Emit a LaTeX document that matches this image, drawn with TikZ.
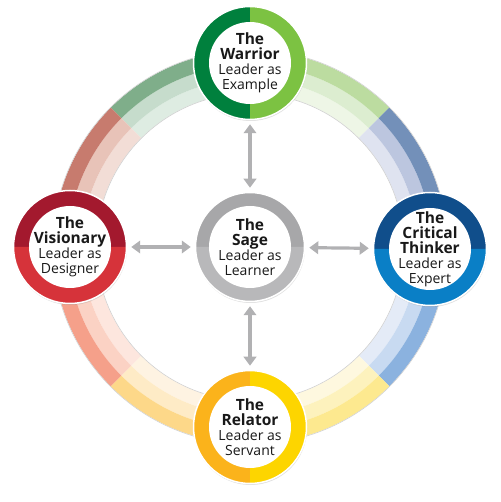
\documentclass[tikz,border=0pt]{standalone}
\usepackage{fontspec}
\setmainfont{Open Sans}
\usetikzlibrary{arrows.meta,shadows}

\definecolor{warriorDk}{HTML}{00803D}
\definecolor{warriorLt}{HTML}{7CC242}
\definecolor{visionDk}{HTML}{A3192E}
\definecolor{visionLt}{HTML}{D6333A}
\definecolor{thinkDk}{HTML}{104E8B}
\definecolor{thinkLt}{HTML}{0A7FC6}
\definecolor{relateDk}{HTML}{FBB31B}
\definecolor{relateLt}{HTML}{FDD500}
\definecolor{sageDk}{HTML}{A7A7A9}
\definecolor{sageLt}{HTML}{B8B8BA}
\definecolor{arrowgray}{HTML}{B1B1B3}
% ring shades, outer / middle / inner
\definecolor{wdA}{HTML}{7FAE8A}\definecolor{wdB}{HTML}{C6DCCC}\definecolor{wdC}{HTML}{DEECE2}
\definecolor{wlA}{HTML}{BCDCA0}\definecolor{wlB}{HTML}{DCEDD0}\definecolor{wlC}{HTML}{EEF6E6}
\definecolor{tdA}{HTML}{7390B9}\definecolor{tdB}{HTML}{BCC6DF}\definecolor{tdC}{HTML}{DFE3F0}
\definecolor{tlA}{HTML}{8BB2DF}\definecolor{tlB}{HTML}{C8DAF1}\definecolor{tlC}{HTML}{E4EBF7}
\definecolor{rlA}{HTML}{FDE98F}\definecolor{rlB}{HTML}{FDF2BD}\definecolor{rlC}{HTML}{FEF8DF}
\definecolor{rdA}{HTML}{FDD889}\definecolor{rdB}{HTML}{FEEBC6}\definecolor{rdC}{HTML}{FEF3E2}
\definecolor{vlA}{HTML}{F5A08A}\definecolor{vlB}{HTML}{FBD2C4}\definecolor{vlC}{HTML}{FDE6DE}
\definecolor{vdA}{HTML}{C77B6E}\definecolor{vdB}{HTML}{E8C3B8}\definecolor{vdC}{HTML}{F2DDD6}

\newcommand\rolehead[1]{{\fontsize{15.5}{15}\selectfont\bfseries #1}}

\begin{document}
\begin{tikzpicture}[x=1pt,y=1pt,
role/.style n args={3}{circle, minimum size=113pt, inner sep=0pt,
  fill=white, draw=white, line width=1.5pt, align=center,
  font=\fontsize{14}{15}\selectfont, text=black!90,
  drop shadow={opacity=.25, shadow xshift=.5pt, shadow yshift=-1.5pt},
  path picture={
    \fill[#1] (path picture bounding box.center) -- ++(#3:60pt)
      arc[start angle=#3, delta angle=180, radius=60pt] -- cycle;
    \fill[#2] (path picture bounding box.center) -- ++(#3+180:60pt)
      arc[start angle=#3+180, delta angle=180, radius=60pt] -- cycle;
    \fill[white] (path picture bounding box.center) circle[radius=41pt];}},
link/.style={{Triangle[width=12.5pt,length=9pt]}-{Triangle[width=12.5pt,length=9pt]},
  line width=3.2pt, draw=arrowgray, shorten <=4pt, shorten >=4pt}]
\useasboundingbox (-250,-255) rectangle (250,247);

\foreach \a/\ca/\cb/\cc in {90/wdA/wdB/wdC, 45/wlA/wlB/wlC, 0/tdA/tdB/tdC,
  -45/tlA/tlB/tlC, -90/rlA/rlB/rlC, -135/rdA/rdB/rdC, 180/vlA/vlB/vlC, 135/vdA/vdB/vdC}
  \foreach \ri/\ro/\c in {154/168/\cc, 168/182/\cb, 182/197/\ca}
    \fill[\c] (\a:\ri) arc[start angle=\a, delta angle=45, radius=\ri]
      -- (\a+45:\ro) arc[start angle=\a+45, delta angle=-45, radius=\ro] -- cycle;
\draw[black!18, line width=.6pt] (0,0) circle[radius=153.7] (0,0) circle[radius=197.3];

\node[role={sageDk}{sageLt}{0}, minimum size=109pt] (sage) at (0,0)
  {\rolehead{The}\\\rolehead{Sage}\\Leader as\\Learner};
\node[role={warriorDk}{warriorLt}{90}] (warrior) at (0,184)
  {\rolehead{The}\\\rolehead{Warrior}\\Leader as\\Example};
\node[role={visionDk}{visionLt}{0}] (visionary) at (-180,0)
  {\rolehead{The}\\\rolehead{Visionary}\\Leader as\\Designer};
\node[role={thinkDk}{thinkLt}{0}] (thinker) at (180,-2)
  {\rolehead{The}\\\rolehead{Critical}\\\rolehead{Thinker}\\Leader as\\Expert};
\node[role={relateDk}{relateLt}{90}] (relator) at (0,-180)
  {\rolehead{The}\\\rolehead{Relator}\\Leader as\\Servant};

\draw[link] (sage) -- (warrior);
\draw[link] (sage) -- (visionary);
\draw[link] (sage) -- (thinker);
\draw[link] (sage) -- (relator);
\end{tikzpicture}
\end{document}
